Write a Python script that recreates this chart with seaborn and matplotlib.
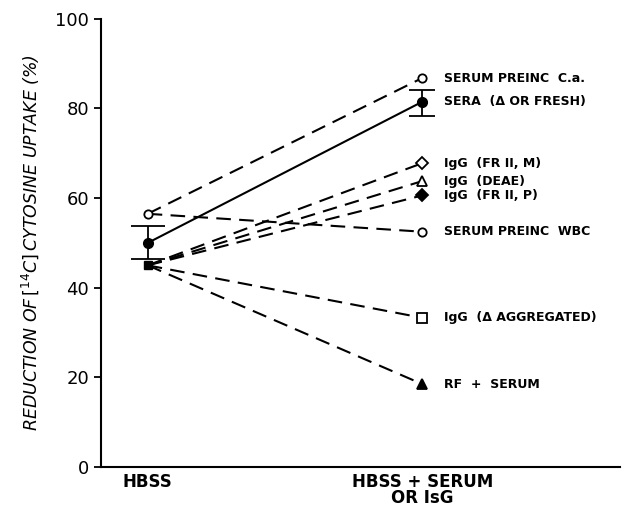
import numpy as np
import pandas as pd
import seaborn as sns
import matplotlib.pyplot as plt

sns.set_theme(style="ticks")
plt.rcParams['font.family'] = ['DejaVu Sans']
plt.rcParams.update({"text.color": "black", "axes.labelcolor": "black",
                     "xtick.color": "black", "ytick.color": "black"})

# x positions: 0 = HBSS, 1 = HBSS + serum or IgG
groups = ["HBSS", "HBSS + SERUM\nOR IsG"]
series_names = ["SERUM PREINC  C.a.", "SERA  (Δ OR FRESH)", "IgG  (FR II, M)",
                "IgG  (DEAE)", "IgG  (FR II, P)", "SERUM PREINC  WBC",
                "IgG  (Δ AGGREGATED)", "RF  +  SERUM"]
start_vals = [56.5, 50.0, 45.0, 45.0, 45.0, 56.5, 45.0, 45.0]
end_vals = [86.8, 81.5, 67.8, 63.8, 60.6, 52.5, 33.3, 18.5]
markers = ["o", "o", "D", "^", "D", "o", "s", "^"]
filled = [False, True, False, False, True, False, False, True]
solid = [False, True, False, False, False, False, False, False]

# error bars for SERA (mean, low, high)
err_mean = [50.0, 81.5]
err_low = [46.5, 78.3]
err_high = [53.8, 84.2]

df = pd.DataFrame({
    "x": [0, 1] * len(series_names),
    "y": [v for pair in zip(start_vals, end_vals) for v in pair],
    "series": [s for s in series_names for _ in range(2)],
})

fig = plt.figure(figsize=(6.29, 5.11), dpi=100)
ax = fig.add_axes([0.1606, 0.0861, 0.825, 0.877])

for i, name in enumerate(series_names):
    sub = df[df["series"] == name]
    sns.lineplot(data=sub, x="x", y="y", ax=ax, color="black", lw=1.5,
                 linestyle="-" if solid[i] else (0, (7, 4)), legend=False)
    ms = 6.5 if markers[i] != "o" else 6
    ax.plot(1, end_vals[i], marker=markers[i], ms=ms, color="black",
            mfc="black" if filled[i] else "white", mew=1.3, zorder=5)
    ax.text(1.08, end_vals[i], name, fontsize=9, fontweight="bold",
            va="center", ha="left")

# left-side markers
ax.plot(0, 56.5, marker="o", ms=6, color="black", mfc="white", mew=1.3, zorder=5)
ax.plot(0, 45.0, marker="s", ms=6, color="black", zorder=5)

# SERA error bars
ax.errorbar(0, err_mean[0], yerr=[[err_mean[0] - err_low[0]], [err_high[0] - err_mean[0]]],
            fmt="o", color="black", ms=7, capsize=12, elinewidth=1.3, capthick=1.3, zorder=6)
ax.errorbar(1, err_mean[1], yerr=[[err_mean[1] - err_low[1]], [err_high[1] - err_mean[1]]],
            fmt="o", color="black", ms=7, capsize=9.5, elinewidth=1.3, capthick=1.3, zorder=6)

ax.set_xlim(-0.17, 1.72)
ax.set_ylim(0, 100)
ax.set_yticks([0, 20, 40, 60, 80, 100])
ax.set_yticklabels(["0", "20", "40", "60", "80", "100"], fontsize=13)
ax.set_xticks([0, 1])
ax.set_xticklabels(groups, fontsize=12, fontweight="bold", linespacing=0.9)
ax.tick_params(axis="x", length=0, pad=4)
ax.tick_params(axis="y", length=5, width=1.3, direction="out")
ax.set_xlabel("")
ax.set_ylabel(r"REDUCTION OF$\,[^{14}$C$]\,$CYTOSINE UPTAKE (%)", fontsize=12.5,
              fontstyle="italic", labelpad=10)
sns.despine(ax=ax)
for s in ["left", "bottom"]:
    ax.spines[s].set_linewidth(1.5)
    ax.spines[s].set_color("black")

fig.savefig("out.png", dpi=100)
